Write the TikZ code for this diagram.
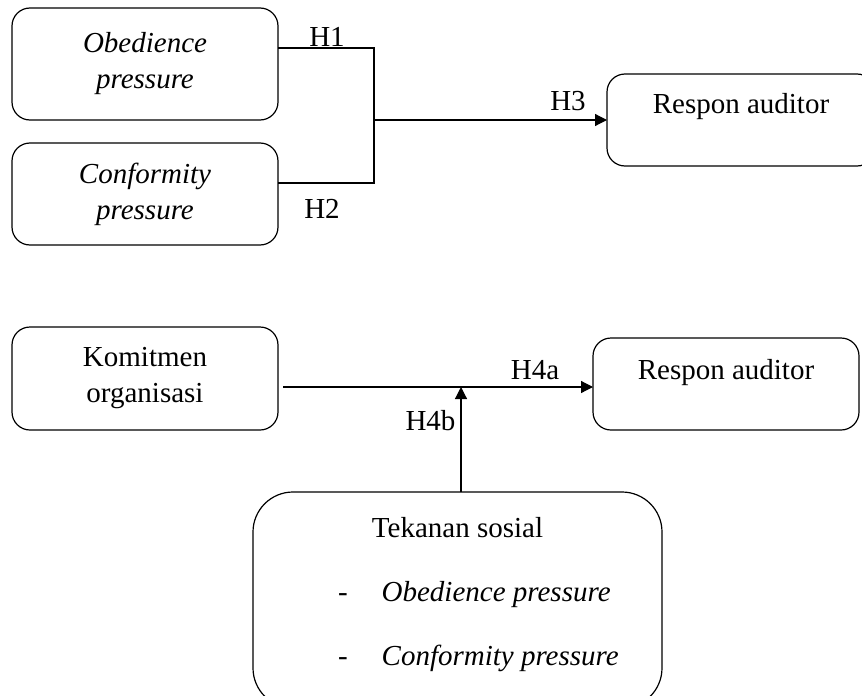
\documentclass[tikz,border=0pt]{standalone}
\usepackage{fontspec}
\setmainfont{Liberation Serif}
\usetikzlibrary{arrows.meta}
\begin{document}
\begin{tikzpicture}[x=1pt,y=-1pt,
  every node/.style={inner sep=0pt, outer sep=0pt},
  box/.style={draw, line width=1.2pt, rounded corners=18pt, align=center, font=\fontsize{29}{36}\selectfont},
  lbl/.style={anchor=base, font=\fontsize{29}{36}\selectfont},
  conn/.style={line width=1.2pt},
  arr/.style={line width=1.2pt, -{Triangle[length=12pt,width=12pt]}}]
\useasboundingbox (0,0) rectangle (862,696);
\clip (0,0) rectangle (862,696);
% top part
\node[box, minimum width=266pt, minimum height=112pt] (ob) at (145,64) {\textit{Obedience}\\\textit{pressure}};
\node[box, minimum width=266pt, minimum height=102pt] (cf) at (145,194) {\textit{Conformity}\\\textit{pressure}};
\node[box, minimum width=268pt, minimum height=92pt] (r1) at (741,120) {\raisebox{7pt}[0pt][0pt]{Respon auditor}};
\coordinate (j1) at (374,48);
\coordinate (j2) at (374,183);
\coordinate (jm) at (374,120);
\draw[conn] (ob.east |- j1) -- (j1) -- (j2) -- (cf.east |- j2);
\draw[arr] (jm) -- (r1.west);
\node[lbl] (h1) at (327,46) {H1};
\node[lbl] (h2) at (322,218) {H2};
\node[lbl] (h3) at (568,110) {H3};
% bottom part
\node[box, minimum width=266pt, minimum height=103pt] (km) at (145,378.5) {Komitmen\\organisasi};
\node[box, minimum width=266pt, minimum height=92pt] (r2) at (726,384) {\raisebox{5pt}[0pt][0pt]{Respon auditor}};
\node[box, rounded corners=40pt, minimum width=409pt, minimum height=216pt, font=\fontsize{29}{64}\selectfont] (ts) at (457.5,600)
  {Tekanan sosial\\
   \makebox[239pt][l]{-\hspace{34pt}\textit{Obedience pressure}}\\
   \makebox[239pt][l]{-\hspace{34pt}\textit{Conformity pressure}}\rule[-17pt]{0pt}{1pt}};
\coordinate (k1) at (283,387);
\coordinate (m) at (461,387);
\draw[arr] (k1) -- (r2.west |- k1);
\draw[arr] (ts.north -| m) -- (m);
\node[lbl] (h4a) at (535,379) {H4a};
\node[lbl] (h4b) at (430.5,430) {H4b};
\end{tikzpicture}
\end{document}
